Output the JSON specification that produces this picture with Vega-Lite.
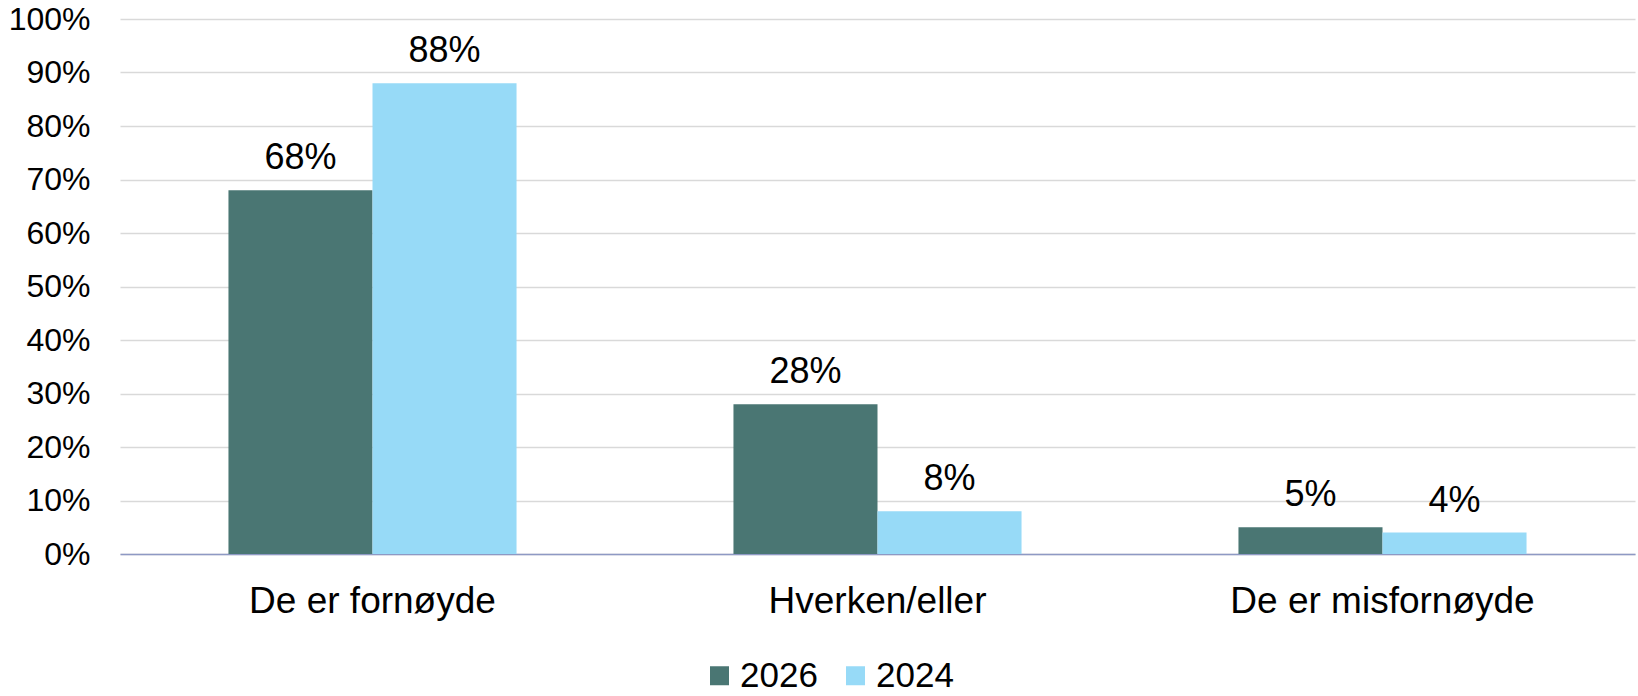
{
  "$schema": "https://vega.github.io/schema/vega-lite/v6.json",
  "width": 1515,
  "height": 535,
  "autosize": "none",
  "padding": {"left": 120, "top": 19, "right": 3, "bottom": 142},
  "background": "white",
  "config": {
    "font": "Liberation Sans",
    "view": {"stroke": null}
  },
  "data": {
    "values": [
      {"kategori": "De er fornøyde", "år": "2026", "verdi": 0.68},
      {"kategori": "De er fornøyde", "år": "2024", "verdi": 0.88},
      {"kategori": "Hverken/eller", "år": "2026", "verdi": 0.28},
      {"kategori": "Hverken/eller", "år": "2024", "verdi": 0.08},
      {"kategori": "De er misfornøyde", "år": "2026", "verdi": 0.05},
      {"kategori": "De er misfornøyde", "år": "2024", "verdi": 0.04}
    ]
  },
  "encoding": {
    "x": {
      "field": "kategori",
      "type": "nominal",
      "sort": ["De er fornøyde", "Hverken/eller", "De er misfornøyde"],
      "scale": {"paddingInner": 0, "paddingOuter": 0},
      "axis": {
        "title": null,
        "labelAngle": 0,
        "labelFontSize": 37,
        "labelColor": "#000000",
        "labelPadding": 29,
        "labelLimit": 600,
        "ticks": false,
        "domainColor": "#8E99C4",
        "domainWidth": 1.5
      }
    },
    "xOffset": {
      "field": "år",
      "type": "nominal",
      "sort": ["2026", "2024"],
      "scale": {"paddingInner": 0, "paddingOuter": 0.753}
    },
    "y": {
      "field": "verdi",
      "type": "quantitative",
      "scale": {"domain": [0, 1], "nice": false},
      "axis": {
        "title": null,
        "values": [0, 0.1, 0.2, 0.3, 0.4, 0.5, 0.6, 0.7, 0.8, 0.9, 1],
        "format": ".0%",
        "labelFontSize": 32,
        "labelColor": "#000000",
        "labelPadding": 30,
        "ticks": false,
        "domain": false,
        "gridColor": "#D9D9D9",
        "gridWidth": 1.5
      }
    },
    "color": {
      "field": "år",
      "type": "nominal",
      "sort": ["2026", "2024"],
      "scale": {"domain": ["2026", "2024"], "range": ["#4A7673", "#97DAF7"]},
      "legend": {
        "title": null,
        "orient": "none",
        "legendX": 582,
        "legendY": 639,
        "direction": "horizontal",
        "columns": 2,
        "columnPadding": 20,
        "symbolType": "square",
        "symbolSize": 361,
        "symbolStrokeWidth": 0,
        "symbolOpacity": 1,
        "labelFontSize": 35,
        "labelColor": "#000000",
        "labelOffset": 3,
        "labelLimit": 200
      }
    }
  },
  "layer": [
    {"mark": {"type": "bar", "opacity": 1}},
    {
      "mark": {"type": "text", "fontSize": 36, "color": "#000000", "baseline": "alphabetic", "dy": -21},
      "encoding": {
        "text": {"field": "verdi", "type": "quantitative", "format": ".0%"},
        "color": {"value": "#000000"}
      }
    }
  ]
}
